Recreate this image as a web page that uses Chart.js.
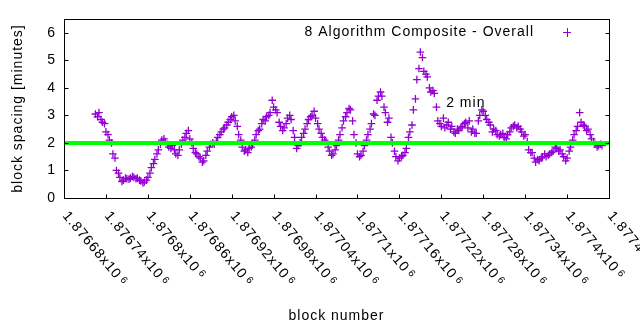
<!DOCTYPE html>
<html>
<head>
<meta charset="utf-8">
<script src="https://cdn.jsdelivr.net/npm/chart.js@4.4.1/dist/chart.umd.min.js"></script>
<style>
  body { margin: 0; background: #fff; }
</style>
</head>
<body>
<canvas id="chart" width="640" height="330"></canvas>
<script>
    // block numbers and spacing in minutes
    const blocks = [
        1876725, 1876730, 1876735, 1876740, 1876745, 1876750, 1876755, 1876760, 1876765, 1876770,
        1876775, 1876780, 1876785, 1876790, 1876795, 1876800, 1876805, 1876810, 1876815, 1876820,
        1876825, 1876830, 1876835, 1876840, 1876845, 1876850, 1876855, 1876860, 1876865, 1876870,
        1876875, 1876880, 1876885, 1876890, 1876895, 1876900, 1876905, 1876910, 1876915, 1876920,
        1876925, 1876930, 1876935, 1876940, 1876945, 1876950, 1876955, 1876960, 1876965, 1876970,
        1876975, 1876980, 1876985, 1876990, 1876995, 1877000, 1877005, 1877010, 1877015, 1877020,
        1877025, 1877030, 1877035, 1877040, 1877045, 1877050, 1877055, 1877060, 1877065, 1877070,
        1877075, 1877080, 1877085, 1877090, 1877095, 1877100, 1877105, 1877110, 1877115, 1877120,
        1877125, 1877130, 1877135, 1877140, 1877145, 1877150, 1877155, 1877160, 1877165, 1877170,
        1877175, 1877180, 1877185, 1877190, 1877195, 1877200, 1877205, 1877210, 1877215, 1877220,
        1877225, 1877230, 1877235, 1877240, 1877245, 1877250, 1877255, 1877260, 1877265, 1877270,
        1877275, 1877280, 1877285, 1877290, 1877295, 1877300, 1877305, 1877310, 1877315, 1877320,
        1877325, 1877330, 1877335, 1877340, 1877345, 1877350, 1877355, 1877360, 1877365, 1877370,
        1877375, 1877380, 1877385, 1877390, 1877395, 1877400, 1877405, 1877410, 1877415, 1877420,
        1877425, 1877430, 1877435, 1877440, 1877445, 1877450
    ];
    const spacing = [
        3.05, 3.1, 2.75, 2.4, 2.1, 1.6, 1.0, 0.75, 0.65, 0.7,
        0.72, 0.75, 0.72, 0.62, 0.58, 0.75, 1.1, 1.4, 1.75, 2.1,
        2.05, 1.85, 1.9, 1.6, 1.75, 2.1, 2.35, 2.15, 1.8, 1.6,
        1.45, 1.35, 1.7, 1.95, 1.95, 2.2, 2.4, 2.55, 2.75, 2.95,
        2.8, 2.3, 1.85, 1.75, 1.8, 1.95, 2.3, 2.5, 2.85, 2.95,
        3.1, 3.3, 3.1, 2.6, 2.55, 2.9, 2.85, 2.2, 1.9, 2.2,
        2.5, 2.85, 3.0, 2.9, 2.5, 2.2, 2.05, 1.7, 1.6, 1.9,
        2.3, 2.8, 3.1, 3.2, 2.3, 1.6, 1.55, 1.9, 2.3, 2.7,
        3.0, 3.7, 3.7, 3.1, 2.9, 2.0, 1.5, 1.45, 1.55, 1.8,
        2.4, 3.2, 4.3, 5.3, 4.6, 4.4, 3.85, 3.8, 2.8, 2.6,
        2.55, 2.75, 2.6, 2.35, 2.45, 2.6, 2.75, 2.8, 2.5, 2.35,
        3.0, 3.15, 2.85, 2.65, 2.5, 2.3, 2.3, 2.2, 2.3, 2.55,
        2.65, 2.6, 2.4, 2.3, 1.75, 1.65, 1.3, 1.35, 1.5, 1.5,
        1.6, 1.7, 1.8, 1.75, 1.5, 1.45, 1.85, 2.3, 2.6, 2.75,
        2.6, 2.5, 2.15, 1.95, 1.9, 1.9
    ];
    // second pass of readings, the blocks in between
    const blocksB = [
        1876728, 1876733, 1876738, 1876743, 1876748, 1876753, 1876758, 1876763, 1876768, 1876773,
        1876778, 1876783, 1876788, 1876793, 1876798, 1876803, 1876808, 1876813, 1876818, 1876823,
        1876828, 1876833, 1876838, 1876843, 1876848, 1876853, 1876858, 1876863, 1876868, 1876873,
        1876878, 1876883, 1876888, 1876893, 1876898, 1876903, 1876908, 1876913, 1876918, 1876923,
        1876928, 1876933, 1876938, 1876943, 1876948, 1876953, 1876958, 1876963, 1876968, 1876973,
        1876978, 1876983, 1876988, 1876993, 1876998, 1877003, 1877008, 1877013, 1877018, 1877023,
        1877028, 1877033, 1877038, 1877043, 1877048, 1877053, 1877058, 1877063, 1877068, 1877073,
        1877078, 1877083, 1877088, 1877093, 1877098, 1877103, 1877108, 1877113, 1877118, 1877123,
        1877128, 1877133, 1877138, 1877143, 1877148, 1877153, 1877158, 1877163, 1877168, 1877173,
        1877178, 1877183, 1877188, 1877193, 1877198, 1877203, 1877208, 1877213, 1877218, 1877223,
        1877228, 1877233, 1877238, 1877243, 1877248, 1877253, 1877258, 1877263, 1877268, 1877273,
        1877278, 1877283, 1877288, 1877293, 1877298, 1877303, 1877308, 1877313, 1877318, 1877323,
        1877328, 1877333, 1877338, 1877343, 1877348, 1877353, 1877358, 1877363, 1877368, 1877373,
        1877378, 1877383, 1877388, 1877393, 1877398, 1877403, 1877408, 1877413, 1877418, 1877423,
        1877428, 1877433, 1877438, 1877443, 1877448
    ];
    const spacingB = [
        2.95, 2.85, 2.7, 2.3, 2.0, 1.45, 0.9, 0.6, 0.72, 0.68,
        0.78, 0.7, 0.65, 0.55, 0.65, 0.9, 1.25, 1.6, 1.95, 2.15,
        1.95, 1.8, 1.75, 1.55, 1.95, 2.2, 2.45, 2.0, 1.65, 1.5,
        1.3, 1.55, 1.85, 2.0, 2.05, 2.3, 2.5, 2.65, 2.85, 3.0,
        2.6, 2.1, 1.7, 1.65, 1.85, 2.1, 2.45, 2.7, 2.8, 3.0,
        3.55, 3.2, 2.75, 2.45, 2.7, 3.0, 2.45, 1.8, 2.0, 2.35,
        2.7, 2.95, 3.15, 2.7, 2.35, 2.1, 1.85, 1.55, 1.75, 2.1,
        2.55, 2.95, 3.25, 2.8, 2.0, 1.5, 1.7, 2.1, 2.5, 3.05,
        3.55, 3.85, 3.3, 2.75, 2.2, 1.7, 1.35, 1.5, 1.65, 2.2,
        2.65, 3.6, 4.7, 5.1, 4.5, 4.0, 3.9, 3.3, 2.7, 2.9,
        2.65, 2.5, 2.4, 2.5, 2.55, 2.7, 2.55, 2.4, 2.35, 2.8,
        3.2, 3.0, 2.75, 2.4, 2.45, 2.25, 2.35, 2.15, 2.4, 2.6,
        2.55, 2.5, 2.25, 2.05, 1.65, 1.45, 1.4, 1.45, 1.6, 1.55,
        1.65, 1.85, 1.7, 1.6, 1.35, 1.7, 2.1, 2.45, 3.1, 2.65,
        2.45, 2.3, 2.05, 1.85, 1.95
    ];

    const xTickValues = [1876680, 1876740, 1876800, 1876860, 1876920, 1876980, 1877040,
        1877100, 1877160, 1877220, 1877280, 1877340, 1877400, 1877460];
    const xTickLabels = ['1.87668', '1.87674', '1.8768', '1.87686', '1.87692', '1.87698', '1.87704',
        '1.8771', '1.87716', '1.87722', '1.87728', '1.87734', '1.8774', '1.87746'];
    const yTickValues = [0, 1, 2, 3, 4, 5, 6];

    const targetMinutes = 2;
    const targetLabel = '2 min';
    const targetLabelAt = { x: 1877227, y: 3.45 };
    const seriesLabel = '8 Algorithm Composite - Overall';

    const FONT = '"Liberation Sans", Arial, sans-serif';
    const PURPLE = '#9400d3';

    const points = blocks.map((b, i) => ({ x: b, y: spacing[i] }))
        .concat(blocksB.map((b, i) => ({ x: b, y: spacingB[i] })))
        .sort((p, q) => p.x - q.x);

    // gnuplot-ish frame, inward ticks, rotated x labels, key and "2 min" label
    const gnuplotFrame = {
        id: 'gnuplotFrame',
        beforeDraw(chart) {
            chart.ctx.letterSpacing = '1px';
        },
        afterDraw(chart) {
            const ctx = chart.ctx;
            const a = chart.chartArea;
            const x = chart.scales.x;
            const y = chart.scales.y;
            const L = Math.round(a.left) + 0.5, R = Math.round(a.right) + 0.5;
            const T = Math.round(a.top) + 0.5, B = Math.round(a.bottom) + 0.5;

            ctx.save();
            ctx.strokeStyle = '#000';
            ctx.lineWidth = 1;
            ctx.strokeRect(L, T, R - L, B - T);

            ctx.beginPath();
            yTickValues.forEach(v => {
                const py = Math.round(y.getPixelForValue(v)) + 0.5;
                ctx.moveTo(L, py); ctx.lineTo(L + 4, py);
                ctx.moveTo(R, py); ctx.lineTo(R - 4, py);
            });
            xTickValues.forEach(v => {
                const px = Math.round(x.getPixelForValue(v)) + 0.5;
                ctx.moveTo(px, B); ctx.lineTo(px, B - 4);
            });
            ctx.stroke();

            // rotated tick labels, reading down to the right
            ctx.fillStyle = '#000';
            ctx.textAlign = 'left';
            ctx.textBaseline = 'alphabetic';
            xTickValues.forEach((v, i) => {
                const px = x.getPixelForValue(v);
                ctx.save();
                ctx.translate(px - 2, a.bottom + 18);
                ctx.rotate(50 * Math.PI / 180);
                ctx.font = '14px ' + FONT;
                const txt = xTickLabels[i] + 'x10';
                ctx.fillText(txt, 0, 0);
                const w = ctx.measureText(txt).width;
                ctx.font = '10px ' + FONT;
                ctx.fillText('6', w + 3, -3);
                ctx.restore();
            });

            // "2 min" label
            ctx.font = '14px ' + FONT;
            ctx.textBaseline = 'middle';
            ctx.fillText(targetLabel, x.getPixelForValue(targetLabelAt.x), y.getPixelForValue(targetLabelAt.y));

            // key
            ctx.textAlign = 'right';
            ctx.fillText(seriesLabel, 534, 32);
            ctx.strokeStyle = PURPLE;
            ctx.beginPath();
            ctx.moveTo(563, 32.5); ctx.lineTo(571, 32.5);
            ctx.moveTo(567.5, 28); ctx.lineTo(567.5, 37);
            ctx.stroke();
            ctx.restore();
        }
    };

    const ctx = document.getElementById('chart').getContext('2d');

    new Chart(ctx, {
        type: 'scatter',
        data: {
            datasets: [
                {
                    label: targetLabel,
                    type: 'line',
                    data: [{ x: xTickValues[0], y: targetMinutes }, { x: xTickValues[xTickValues.length - 1], y: targetMinutes }],
                    borderColor: '#00ff00',
                    borderWidth: 4,
                    borderCapStyle: 'butt',
                    pointRadius: 0,
                    fill: false,
                    order: 0
                },
                {
                    label: seriesLabel,
                    data: points,
                    pointStyle: 'cross',
                    pointRadius: 3.8,
                    pointBorderWidth: 1.3,
                    borderColor: PURPLE,
                    backgroundColor: PURPLE,
                    showLine: false,
                    order: 1
                }
            ]
        },
        options: {
            responsive: false,
            animation: false,
            layout: {
                padding: { top: 19, right: 31, left: 0, bottom: 0 }
            },
            plugins: {
                legend: { display: false },
                tooltip: { enabled: false }
            },
            scales: {
                x: {
                    type: 'linear',
                    min: xTickValues[0],
                    max: xTickValues[xTickValues.length - 1],
                    grid: { display: false, drawTicks: false },
                    border: { display: false },
                    ticks: { display: false },
                    afterBuildTicks: (scale) => {
                        scale.ticks = xTickValues.map(v => ({ value: v }));
                    },
                    afterFit: (scale) => { scale.height = 132; },
                    title: {
                        display: true,
                        text: 'block number',
                        color: '#000',
                        font: { family: FONT, size: 14 },
                        padding: { top: 0, bottom: 5 }
                    }
                },
                y: {
                    min: 0,
                    max: 6.5,
                    grid: { display: false, drawTicks: false },
                    border: { display: false },
                    afterBuildTicks: (scale) => {
                        scale.ticks = yTickValues.map(v => ({ value: v }));
                    },
                    afterFit: (scale) => { scale.width = 64; },
                    ticks: {
                        color: '#000',
                        padding: 8,
                        font: { family: FONT, size: 14 }
                    },
                    title: {
                        display: true,
                        text: 'block spacing [minutes]',
                        color: '#000',
                        font: { family: FONT, size: 14 },
                        padding: { top: 10, bottom: 0 }
                    }
                }
            }
        },
        plugins: [gnuplotFrame]
    });
</script>
</body>
</html>
